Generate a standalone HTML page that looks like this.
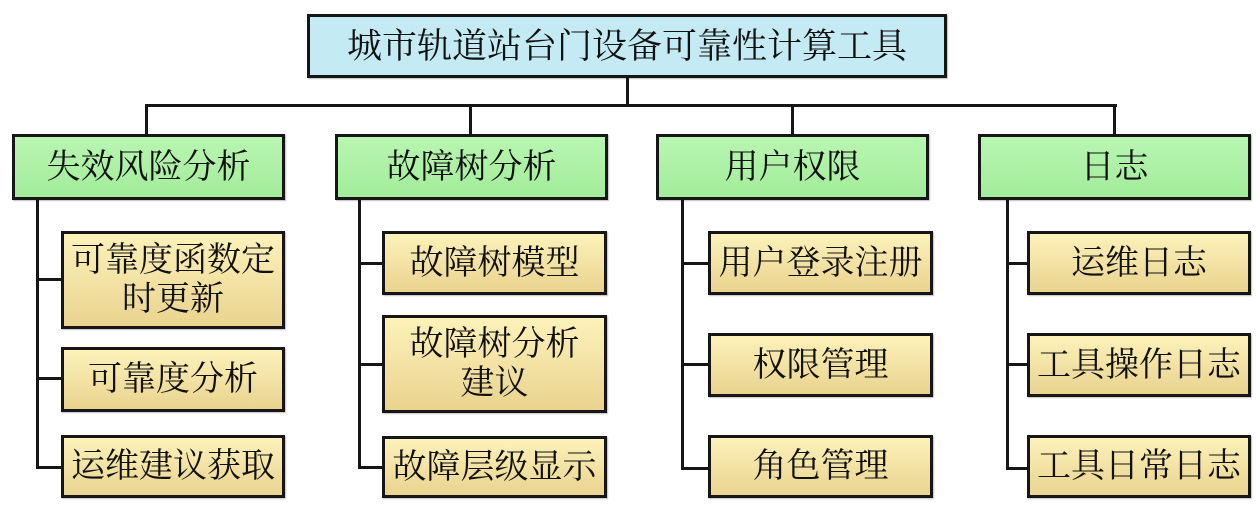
<!DOCTYPE html>
<html><head><meta charset="utf-8"><style>
html,body{margin:0;padding:0;background:#fff;}
body{width:1260px;height:516px;position:relative;overflow:hidden;font-family:"Liberation Serif","Noto Serif CJK SC","Noto Sans CJK SC",serif;color:#111;}
.b{position:absolute;box-sizing:border-box;border:3px solid #161616;display:flex;align-items:center;justify-content:center;text-align:center;font-size:34px;line-height:39px;white-space:nowrap;box-shadow:1px 1px 1px rgba(0,0,0,0.25);}
.root{background:#c4eaf4;font-size:35px;}
.g{background:linear-gradient(#b9f6b2,#a2ec9a);}
.y{background:linear-gradient(#fdf2ba,#e9d38f);}
.l{position:absolute;background:#161616;}
</style></head><body>
<div class="b root" style="left:307px;top:14px;width:640px;height:64px;">城市轨道站台门设备可靠性计算工具</div>

<div class="l" style="left:626px;top:77px;width:3px;height:30px;"></div>
<div class="l" style="left:145px;top:104px;width:972px;height:3px;"></div>
<div class="l" style="left:145px;top:104px;width:3px;height:31px;"></div>
<div class="l" style="left:469px;top:104px;width:3px;height:31px;"></div>
<div class="l" style="left:791px;top:104px;width:3px;height:31px;"></div>
<div class="l" style="left:1113px;top:104px;width:3px;height:31px;"></div>

<div class="b g" style="left:12px;top:134px;width:273px;height:66px;">失效风险分析</div>
<div class="b g" style="left:335px;top:134px;width:273px;height:66px;">故障树分析</div>
<div class="b g" style="left:656px;top:134px;width:273px;height:66px;">用户权限</div>
<div class="b g" style="left:978px;top:134px;width:273px;height:66px;">日志</div>

<!-- column 1 -->
<div class="l" style="left:36px;top:199px;width:3px;height:270px;"></div>
<div class="l" style="left:36px;top:278px;width:26px;height:3px;"></div>
<div class="l" style="left:36px;top:377px;width:26px;height:3px;"></div>
<div class="l" style="left:36px;top:466px;width:26px;height:3px;"></div>
<div class="b y" style="left:61px;top:231px;width:224px;height:98px;">可靠度函数定<br>时更新</div>
<div class="b y" style="left:61px;top:347px;width:224px;height:65px;">可靠度分析</div>
<div class="b y" style="left:61px;top:435px;width:224px;height:63px;">运维建议获取</div>

<!-- column 2 -->
<div class="l" style="left:358px;top:199px;width:3px;height:270px;"></div>
<div class="l" style="left:358px;top:262px;width:24px;height:3px;"></div>
<div class="l" style="left:358px;top:363px;width:24px;height:3px;"></div>
<div class="l" style="left:358px;top:466px;width:24px;height:3px;"></div>
<div class="b y" style="left:382px;top:231px;width:225px;height:64px;">故障树模型</div>
<div class="b y" style="left:382px;top:315px;width:225px;height:98px;">故障树分析<br>建议</div>
<div class="b y" style="left:382px;top:436px;width:225px;height:62px;">故障层级显示</div>

<!-- column 3 -->
<div class="l" style="left:681px;top:199px;width:3px;height:271px;"></div>
<div class="l" style="left:681px;top:262px;width:28px;height:3px;"></div>
<div class="l" style="left:681px;top:363px;width:28px;height:3px;"></div>
<div class="l" style="left:681px;top:467px;width:28px;height:3px;"></div>
<div class="b y" style="left:708px;top:231px;width:225px;height:64px;">用户登录注册</div>
<div class="b y" style="left:708px;top:333px;width:225px;height:64px;">权限管理</div>
<div class="b y" style="left:708px;top:435px;width:225px;height:63px;">角色管理</div>

<!-- column 4 -->
<div class="l" style="left:1006px;top:199px;width:3px;height:271px;"></div>
<div class="l" style="left:1006px;top:262px;width:22px;height:3px;"></div>
<div class="l" style="left:1006px;top:363px;width:22px;height:3px;"></div>
<div class="l" style="left:1006px;top:467px;width:22px;height:3px;"></div>
<div class="b y" style="left:1027px;top:231px;width:224px;height:64px;">运维日志</div>
<div class="b y" style="left:1027px;top:333px;width:224px;height:64px;">工具操作日志</div>
<div class="b y" style="left:1027px;top:435px;width:224px;height:63px;">工具日常日志</div>
</body></html>
